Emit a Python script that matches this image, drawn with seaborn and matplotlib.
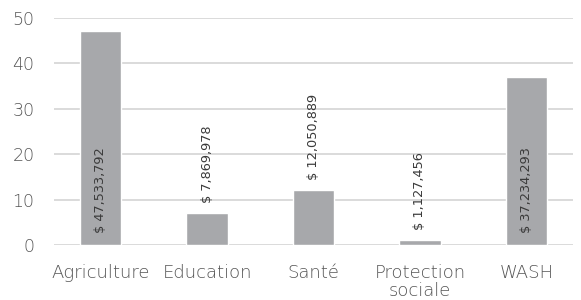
import matplotlib
matplotlib.use("Agg")
import matplotlib.pyplot as plt
import seaborn as sns
import pandas as pd

# budget par secteur, en millions de $
sectors = ["Agriculture", "Education", "Santé", "Protection\nsociale", "WASH"]
amounts = [47.2, 7.0, 12.1, 1.1, 37.0]
labels = ["$ 47,533,792", "$ 7,869,978", "$ 12,050,889", "$ 1,127,456", "$ 37,234,293"]
inside = [True, False, False, False, True]

df = pd.DataFrame({"sector": sectors, "amount": amounts})

sns.set_style("white")
plt.rcParams["font.family"] = ["DejaVu Sans"]

fig = plt.figure(figsize=(5.81, 3.0), dpi=100)
ax = fig.add_axes([54 / 581, 55 / 300, 519 / 581, 227 / 300])

sns.barplot(data=df, x="sector", y="amount", color="#a7a8ab", width=0.39,
            saturation=1, ax=ax)

for i, (v, lab, ins) in enumerate(zip(amounts, labels, inside)):
    y = 2.6 if ins else v + 2.2
    ax.text(i, y, lab, rotation=90, ha="center", va="bottom",
            fontsize=9.3, color="#3a3a3a")

ax.set_ylim(0, 50)
ax.set_xlim(-0.437, 4.437)
ax.set_yticks(range(0, 51, 10))
ax.yaxis.grid(True, color="#d4d4d4", linewidth=1.2)
ax.set_axisbelow(True)
for s in ax.spines.values():
    s.set_visible(False)
ax.tick_params(axis="both", length=0, labelsize=12.5, colors="#555555")
ax.tick_params(axis="x", labelsize=13, pad=14)
ax.tick_params(axis="y", pad=14)
for t in ax.get_xticklabels() + ax.get_yticklabels():
    t.set_fontweight(200)
    t.set_linespacing(0.95)
ax.set_xlabel("")
ax.set_ylabel("")

fig.savefig("out.png", dpi=100)
